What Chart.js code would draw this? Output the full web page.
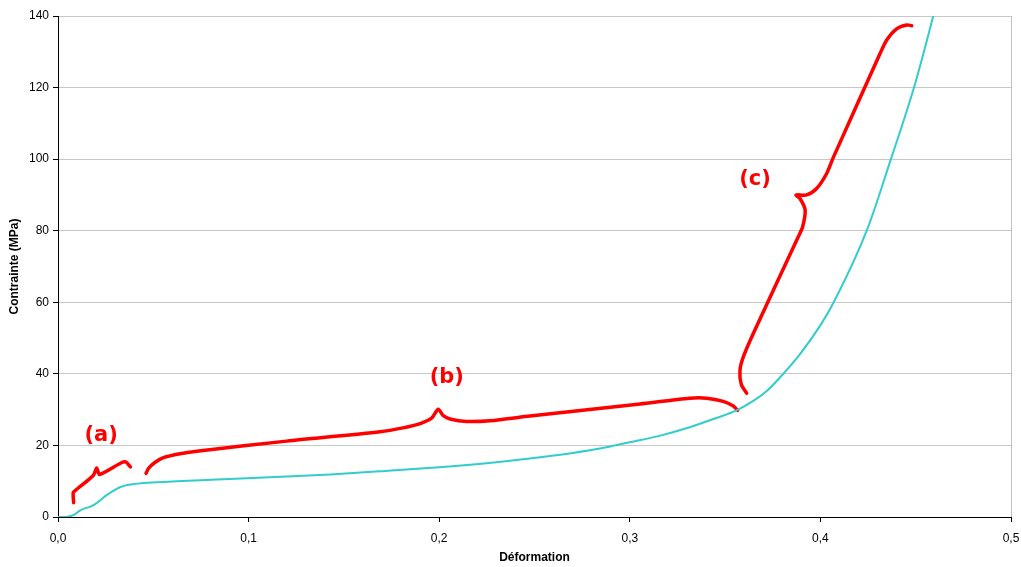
<!DOCTYPE html>
<html>
<head>
<meta charset="utf-8">
<script src="https://cdn.jsdelivr.net/npm/chart.js@4"></script>
<style>
    html, body { margin: 0; padding: 0; background: #fff; }
    canvas { display: block; }
</style>
</head>
<body>
<canvas id="myChart" width="1021" height="567"></canvas>
<script>
// courbe contrainte / déformation
const strainX = [0, 0.005, 0.008, 0.0115, 0.014, 0.017, 0.0195, 0.0225, 0.0255, 0.029, 0.0325, 0.037, 0.045, 0.06, 0.075, 0.09,
    0.12, 0.143, 0.17, 0.2, 0.23, 0.253, 0.27, 0.285, 0.3, 0.315, 0.331, 0.345, 0.356, 0.365, 0.372, 0.3805, 0.389,
    0.3998, 0.407, 0.4243, 0.437, 0.4491, 0.4592, 0.463];
const stressY = [0, 0.1, 0.5, 1.8, 2.4, 2.9, 3.6, 4.8, 6.1, 7.3, 8.3, 9.0, 9.5, 9.9, 10.3, 10.6,
    11.3, 11.9, 12.8, 13.9, 15.3, 16.7, 17.9, 19.2, 20.9, 22.6, 25.0, 27.6, 29.8, 32.5, 35.3, 40.0, 45.3,
    53.4, 60, 80, 100, 120, 140, 148];

// accolades (a), (b), (c)
const braceAX = [0.0082, 0.008, 0.0095, 0.0185, 0.0203, 0.0218, 0.033, 0.0355, 0.038];
const braceAY = [4.0, 6.8, 7.6, 11.6, 13.7, 11.9, 15.1, 15.4, 14.0];
const braceBX = [0.0462, 0.0475, 0.051, 0.0553, 0.064, 0.0728, 0.12, 0.169, 0.181, 0.19, 0.196, 0.1995, 0.202, 0.2057,
    0.2144, 0.2266, 0.2476, 0.3054, 0.3316, 0.3403, 0.349, 0.3543, 0.3566];
const braceBY = [12.2, 13.6, 15.3, 16.6, 17.7, 18.4, 21.2, 23.8, 24.9, 26.1, 27.6, 30.1, 28.4, 27.4,
    26.7, 26.9, 28.2, 31.6, 33.2, 33.2, 32.3, 31.0, 29.8];
const braceCX = [0.3613, 0.3585, 0.3578, 0.3596, 0.3648, 0.3884, 0.3907, 0.392, 0.3893, 0.3872, 0.3928, 0.398, 0.4033,
    0.4068, 0.4313, 0.4348, 0.44, 0.4453, 0.4479];
const braceCY = [34.6, 37.0, 41.0, 44.8, 51.3, 78.3, 81.1, 85.8, 89.0, 90.0, 90.0, 91.8, 96.0,
    100.5, 129.5, 133.3, 136.4, 137.5, 137.3];

const labelText = ['(a)', '(b)', '(c)'];
const labelX = [0.0226, 0.204, 0.3657];
const labelY = [22.9, 39.1, 94.2];

const xTicks = [0, 0.1, 0.2, 0.3, 0.4, 0.5];
const yTicks = [0, 20, 40, 60, 80, 100, 120, 140];

function toPoints(xs, ys) {
    return xs.map((x, i) => ({ x: x, y: ys[i] }));
}

function braceDataset(xs, ys) {
    return {
        data: toPoints(xs, ys),
        borderColor: '#ff0000',
        borderWidth: 3.5,
        pointRadius: 0,
        tension: 0.25,
        borderCapStyle: 'round',
        borderJoinStyle: 'round'
    };
}

// texte (a) (b) (c)
const labelPlugin = {
    id: 'braceLabels',
    afterDatasetsDraw(chart) {
        const ctx = chart.ctx;
        const xs = chart.scales.x;
        const ys = chart.scales.y;
        ctx.save();
        ctx.fillStyle = '#ff0000';
        ctx.font = 'bold 21px "DejaVu Sans", sans-serif';
        ctx.textAlign = 'center';
        ctx.textBaseline = 'middle';
        labelText.forEach((t, i) => {
            ctx.fillText(t, xs.getPixelForValue(labelX[i]), ys.getPixelForValue(labelY[i]));
        });
        ctx.restore();
    }
};

const ctx = document.getElementById('myChart').getContext('2d');
const myChart = new Chart(ctx, {
    type: 'line',
    data: {
        datasets: [
            {
                data: toPoints(strainX, stressY),
                borderColor: '#33cccc',
                borderWidth: 2,
                pointRadius: 0,
                cubicInterpolationMode: 'monotone'
            },
            braceDataset(braceAX, braceAY),
            braceDataset(braceBX, braceBY),
            braceDataset(braceCX, braceCY)
        ]
    },
    options: {
        responsive: false,
        animation: false,
        layout: { padding: { left: 0, top: 16, right: 10, bottom: 0 } },
        plugins: {
            legend: { display: false },
            tooltip: { enabled: false }
        },
        scales: {
            x: {
                type: 'linear',
                min: 0,
                max: 0.5,
                afterBuildTicks: (scale) => { scale.ticks = xTicks.map(v => ({ value: v })); },
                afterFit: (scale) => {
                    scale.height = 50;
                    scale.paddingLeft = 0;
                    scale.paddingRight = 0;
                },
                ticks: {
                    color: '#000',
                    font: { family: 'Liberation Sans', size: 12 },
                    padding: 9,
                    maxRotation: 0,
                    callback: (v) => v.toFixed(1).replace('.', ',')
                },
                grid: {
                    color: (c) => c.tick && c.tick.value === 0.5 ? '#c0c0c0' : 'rgba(0,0,0,0)',
                    tickColor: '#000',
                    tickLength: 5,
                    drawOnChartArea: true
                },
                border: { color: '#000', width: 1 },
                title: {
                    display: true,
                    text: 'Déformation',
                    color: '#000',
                    font: { family: 'Liberation Sans', size: 12, weight: 'bold' },
                    padding: { top: 6, bottom: 2 }
                }
            },
            y: {
                type: 'linear',
                min: 0,
                max: 140,
                afterBuildTicks: (scale) => { scale.ticks = yTicks.map(v => ({ value: v })); },
                afterFit: (scale) => { scale.width = 58; },
                ticks: {
                    color: '#000',
                    font: { family: 'Liberation Sans', size: 12 },
                    padding: 4
                },
                grid: {
                    color: '#c8c8c8',
                    tickColor: '#000',
                    tickLength: 5
                },
                border: { color: '#000', width: 1 },
                title: {
                    display: true,
                    text: 'Contrainte (MPa)',
                    color: '#000',
                    font: { family: 'Liberation Sans', size: 12, weight: 'bold' },
                    padding: { top: 7, bottom: 0 }
                }
            }
        }
    },
    plugins: [labelPlugin]
});
</script>
</body>
</html>
